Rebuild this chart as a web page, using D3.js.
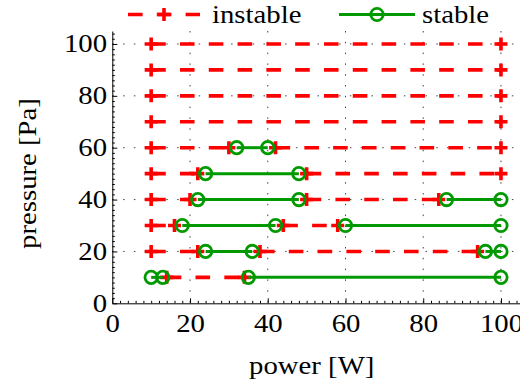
<!DOCTYPE html>
<html>
<head>
<meta charset="utf-8">
<script src="https://cdn.jsdelivr.net/npm/d3@7"></script>
<style>
  body { margin: 0; background: #fff; }
  svg { display: block; background: #fff; }
  svg text { font-family: "Liberation Serif", "DejaVu Serif", serif !important; fill: #000; }
</style>
</head>
<body>
<svg id="chart" width="520" height="385" font-family="Liberation Serif, DejaVu Serif, serif"></svg>
<script>
// Axis ticks
const xTickValues = [0, 20, 40, 60, 80, 100];
const yTickValues = [0, 20, 40, 60, 80, 100];

// Instable operating ranges: pressure [Pa], power from / to [W]
const instableP     = [10, 20, 20, 30, 30, 40, 40, 50, 50,  60, 60,  70,  80,  90,  100];
const instableStart = [14, 10, 38, 10, 44, 10, 50, 10, 50,  10, 42,  10,  10,  10,  10];
const instableEnd   = [34, 22, 94, 16, 58, 20, 84, 22, 100, 30, 100, 100, 100, 100, 100];

// Stable operating ranges: pressure [Pa], power from / to [W]
const stableP     = [10, 10,  20, 20,  30, 30,  40, 40,  50, 60];
const stableStart = [10, 35,  24, 96,  18, 60,  22, 86,  24, 32];
const stableEnd   = [13, 100, 36, 100, 42, 100, 48, 100, 48, 40];

const seriesNames = ["instable", "stable"];
const xLabel = "power [W]";
const yLabel = "pressure [Pa]";

const RED = "#ff0000";
const GREEN = "#009a00";
const FONT = "Liberation Serif, DejaVu Serif, serif";
const FS = 25;          // font size
const STRETCH = 1.15;   // wide serif look
const DASH = "14.6,14.2";

const svg = d3.select("#chart");

const x = d3.scaleLinear().domain([0, 105]).range([112.3, 520.4]);
const y = d3.scaleLinear().domain([0, 105]).range([303.3, 31]);

// Dotted grid at the major ticks
const grid = svg.append("g")
  .attr("stroke", "#444")
  .attr("stroke-width", 1)
  .attr("stroke-dasharray", "1.5,9.3");
grid.selectAll("line.gx")
  .data(xTickValues.filter(v => v > 0))
  .join("line").attr("class", "gx")
  .attr("x1", d => x(d)).attr("x2", d => x(d))
  .attr("y1", y(105)).attr("y2", y(0));
grid.selectAll("line.gy")
  .data(yTickValues.filter(v => v > 0))
  .join("line").attr("class", "gy")
  .attr("x1", x(0)).attr("x2", x(105))
  .attr("y1", d => y(d)).attr("y2", d => y(d));

// Minor ticks every 2 units, pointing inward
const minorX = d3.range(0, 105, 2).filter(v => v % 20 !== 0);
const minorY = d3.range(0, 105, 2).filter(v => v % 20 !== 0);
svg.append("g")
  .attr("transform", `translate(0,${y(0)})`)
  .call(d3.axisBottom(x).tickValues(minorX).tickSize(-2.5).tickFormat(""))
  .call(g => g.select(".domain").remove());
svg.append("g")
  .attr("transform", `translate(${x(0)},0)`)
  .call(d3.axisLeft(y).tickValues(minorY).tickSize(-2.5).tickFormat(""))
  .call(g => g.select(".domain").remove());

// Main axes
const xAxis = svg.append("g")
  .attr("transform", `translate(0,${y(0)})`)
  .call(d3.axisBottom(x).tickValues(xTickValues).tickSize(-5).tickSizeOuter(0).tickPadding(11));
xAxis.attr("font-size", FS).attr("font-family", FONT);
xAxis.selectAll("text").attr("transform", `scale(${STRETCH},1)`);

const yAxis = svg.append("g")
  .attr("transform", `translate(${x(0)},0)`)
  .call(d3.axisLeft(y).tickValues(yTickValues).tickSize(-5).tickSizeOuter(0).tickPadding(5.3 / STRETCH));
yAxis.attr("font-size", FS).attr("font-family", FONT);
yAxis.selectAll("text").attr("transform", `scale(${STRETCH},1)`);

svg.selectAll(".domain").attr("stroke", "#000").attr("stroke-width", 1);

// Marker helpers
function plus(g, cx, cy) {
  g.append("path")
    .attr("d", `M${cx - 6.5},${cy}H${cx + 6.5}M${cx},${cy - 6.5}V${cy + 6.5}`)
    .attr("stroke", RED).attr("stroke-width", 3.6).attr("fill", "none");
}
function ring(g, cx, cy) {
  g.append("circle")
    .attr("cx", cx).attr("cy", cy).attr("r", 6.2)
    .attr("fill", "none").attr("stroke", GREEN).attr("stroke-width", 2.8);
}

// Instable ranges: dashed red with + at both ends
const gInst = svg.append("g");
instableP.forEach((p, i) => {
  const x1 = x(instableStart[i]), x2 = x(instableEnd[i]), yy = y(p);
  gInst.append("line")
    .attr("x1", x1).attr("x2", x2).attr("y1", yy).attr("y2", yy)
    .attr("stroke", RED).attr("stroke-width", 3.6)
    .attr("stroke-dasharray", DASH);
  plus(gInst, x1, yy);
  plus(gInst, x2, yy);
});

// Stable ranges: solid green with open circles at both ends
const gStab = svg.append("g");
stableP.forEach((p, i) => {
  const x1 = x(stableStart[i]), x2 = x(stableEnd[i]), yy = y(p);
  gStab.append("line")
    .attr("x1", x1).attr("x2", x2).attr("y1", yy).attr("y2", yy)
    .attr("stroke", GREEN).attr("stroke-width", 3);
  ring(gStab, x1, yy);
  ring(gStab, x2, yy);
});

// Legend
const legend = svg.append("g");
const ly = 14.5;
legend.append("line")
  .attr("x1", 128).attr("x2", 200).attr("y1", ly).attr("y2", ly)
  .attr("stroke", RED).attr("stroke-width", 3.6).attr("stroke-dasharray", DASH);
plus(legend, 164, ly);
legend.append("text")
  .attr("transform", `translate(212,22.5) scale(${STRETCH},1)`)
  .attr("font-size", FS).attr("font-family", FONT)
  .text(seriesNames[0]);

legend.append("line")
  .attr("x1", 339).attr("x2", 415).attr("y1", ly).attr("y2", ly)
  .attr("stroke", GREEN).attr("stroke-width", 3);
ring(legend, 377, ly);
legend.append("text")
  .attr("transform", `translate(422,22.5) scale(${STRETCH},1)`)
  .attr("font-size", FS).attr("font-family", FONT)
  .text(seriesNames[1]);

// Axis titles
svg.append("text")
  .attr("transform", `translate(311.7,373.5) scale(${STRETCH},1)`)
  .attr("text-anchor", "middle")
  .attr("font-size", FS).attr("font-family", FONT)
  .text(xLabel);
svg.append("text")
  .attr("transform", `translate(35.5,173.5) rotate(-90) scale(${STRETCH},1)`)
  .attr("text-anchor", "middle")
  .attr("font-size", FS).attr("font-family", FONT)
  .text(yLabel);
</script>
</body>
</html>
